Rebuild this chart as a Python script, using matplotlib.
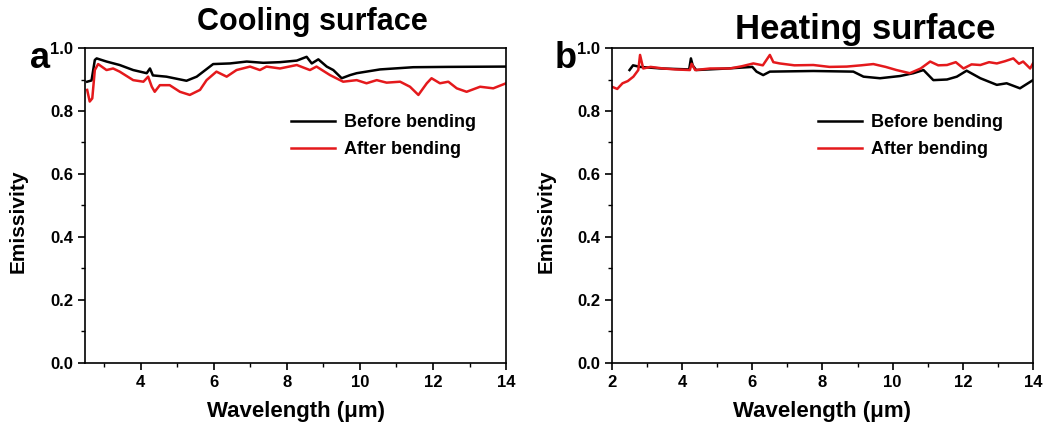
import matplotlib
matplotlib.use("Agg")
import matplotlib.pyplot as plt
from matplotlib.ticker import MultipleLocator

plt.rcParams['font.family'] = ['Liberation Sans', 'DejaVu Sans']
plt.rcParams['font.weight'] = 'bold'

# ---- Panel a: Cooling surface ----
a_before_x = [2.53, 2.65, 2.74, 2.79, 3.06, 3.42, 3.79, 4.16, 4.25, 4.33, 4.7, 5.25, 5.53,
              5.98, 6.44, 6.9, 7.35, 7.81, 8.27, 8.54, 8.68, 8.86, 9.09, 9.27, 9.5, 9.73,
              9.91, 10.55, 11.46, 12.37, 14.0]
a_before_y = [0.893, 0.897, 0.962, 0.967, 0.957, 0.946, 0.930, 0.920, 0.935, 0.913, 0.909,
              0.896, 0.909, 0.949, 0.951, 0.957, 0.953, 0.955, 0.960, 0.972, 0.951, 0.964,
              0.941, 0.930, 0.904, 0.914, 0.920, 0.932, 0.939, 0.940, 0.941]

a_after_x = [2.53, 2.6, 2.67, 2.74, 2.83, 3.06, 3.24, 3.42, 3.79, 4.07, 4.2, 4.3, 4.38, 4.52,
             4.79, 5.07, 5.34, 5.62, 5.8, 6.07, 6.35, 6.62, 6.99, 7.26, 7.44, 7.81, 8.27,
             8.63, 8.81, 9.18, 9.54, 9.91, 10.18, 10.46, 10.73, 11.1, 11.37, 11.6, 11.83,
             11.96, 12.19, 12.42, 12.65, 12.92, 13.29, 13.65, 14.0]
a_after_y = [0.867, 0.830, 0.840, 0.930, 0.949, 0.930, 0.935, 0.925, 0.898, 0.893, 0.909,
             0.877, 0.861, 0.882, 0.882, 0.861, 0.851, 0.867, 0.898, 0.925, 0.909, 0.930,
             0.941, 0.930, 0.941, 0.935, 0.946, 0.930, 0.941, 0.914, 0.893, 0.898, 0.888,
             0.898, 0.890, 0.893, 0.877, 0.851, 0.888, 0.904, 0.888, 0.893, 0.872, 0.861,
             0.877, 0.872, 0.888]

# ---- Panel b: Heating surface ----
b_before_x = [2.5, 2.6, 2.8, 3.4, 4.2, 4.25, 4.3, 4.4, 5.3, 6.0, 6.12, 6.31, 6.5, 7.74,
              8.88, 9.17, 9.64, 10.21, 10.59, 10.88, 11.16, 11.55, 11.83, 12.11, 12.5,
              12.97, 13.25, 13.63, 14.0]
b_before_y = [0.930, 0.945, 0.940, 0.935, 0.932, 0.967, 0.945, 0.930, 0.935, 0.940, 0.925,
              0.914, 0.925, 0.927, 0.925, 0.909, 0.904, 0.911, 0.920, 0.930, 0.898, 0.900,
              0.909, 0.928, 0.904, 0.883, 0.888, 0.872, 0.898]

b_after_x = [2.0, 2.15, 2.3, 2.45, 2.61, 2.75, 2.8, 2.89, 3.1, 3.46, 3.8, 4.22, 4.27, 4.37,
             4.8, 5.36, 5.7, 6.03, 6.3, 6.5, 6.6, 6.78, 7.2, 7.74, 8.2, 8.69, 9.1, 9.45,
             9.8, 10.11, 10.49, 10.8, 11.07, 11.3, 11.55, 11.8, 12.02, 12.25, 12.5, 12.75,
             12.97, 13.2, 13.44, 13.6, 13.72, 13.92, 14.0]
b_after_y = [0.877, 0.870, 0.888, 0.895, 0.909, 0.930, 0.978, 0.935, 0.940, 0.935, 0.932,
             0.930, 0.950, 0.930, 0.935, 0.935, 0.942, 0.951, 0.945, 0.978, 0.955, 0.951,
             0.945, 0.946, 0.940, 0.941, 0.945, 0.949, 0.940, 0.930, 0.920, 0.935, 0.957,
             0.945, 0.946, 0.955, 0.935, 0.948, 0.946, 0.955, 0.951, 0.958, 0.967, 0.950,
             0.957, 0.935, 0.951]

xticks_a = [4, 6, 8, 10, 12, 14]
xticks_b = [2, 4, 6, 8, 10, 12, 14]
yticks = [0.0, 0.2, 0.4, 0.6, 0.8, 1.0]

RED = '#e4191c'

fig = plt.figure(figsize=(10.49, 4.34), dpi=100)
axa = fig.add_axes([0.081, 0.1636, 0.4014, 0.7258])
axb = fig.add_axes([0.5834, 0.1636, 0.4013, 0.7258])

panels = [
    (axa, a_before_x, a_before_y, a_after_x, a_after_y, (2.47, 14), xticks_a,
     'Cooling surface', 22, 0.298, 0.949),
    (axb, b_before_x, b_before_y, b_after_x, b_after_y, (2, 14), xticks_b,
     'Heating surface', 25, 0.825, 0.931),
]

for ax, bx, by, rx, ry, xlim, xt, title, tsize, tx, ty in panels:
    ax.plot(bx, by, color='black', lw=1.8, label='Before bending')
    ax.plot(rx, ry, color=RED, lw=1.8, label='After bending')
    ax.set_xlim(*xlim)
    ax.set_ylim(0, 1.0)
    ax.set_xticks(xt)
    ax.set_xticklabels([str(v) for v in xt])
    ax.set_yticks(yticks)
    ax.set_yticklabels([f'{v:.1f}' for v in yticks])
    ax.xaxis.set_minor_locator(MultipleLocator(1))
    ax.yaxis.set_minor_locator(MultipleLocator(0.1))
    ax.tick_params(which='major', direction='out', length=5, width=1.2, labelsize=12)
    ax.tick_params(which='minor', direction='out', length=3, width=1.0)
    for lab in ax.get_xticklabels() + ax.get_yticklabels():
        lab.set_fontweight('bold')
    for s in ax.spines.values():
        s.set_linewidth(1.2)
    ax.set_xlabel('Wavelength (μm)', fontsize=16, fontweight='bold', labelpad=8)
    ax.set_ylabel('Emissivity', fontsize=15, fontweight='bold')
    ax.yaxis.set_label_coords(-0.135, 0.45)
    ax.legend(loc='upper left', bbox_to_anchor=(0.49, 0.79), frameon=False,
              prop={'weight': 'bold', 'size': 13}, handlelength=2.4,
              handletextpad=0.5, labelspacing=0.55, borderpad=0, borderaxespad=0)
    fig.text(tx, ty, title, fontsize=tsize, fontweight='bold', ha='center', va='center')

fig.text(0.029, 0.866, 'a', fontsize=26, fontweight='bold', ha='left', va='center')
fig.text(0.529, 0.866, 'b', fontsize=26, fontweight='bold', ha='left', va='center')

fig.savefig('out.png', dpi=100)
